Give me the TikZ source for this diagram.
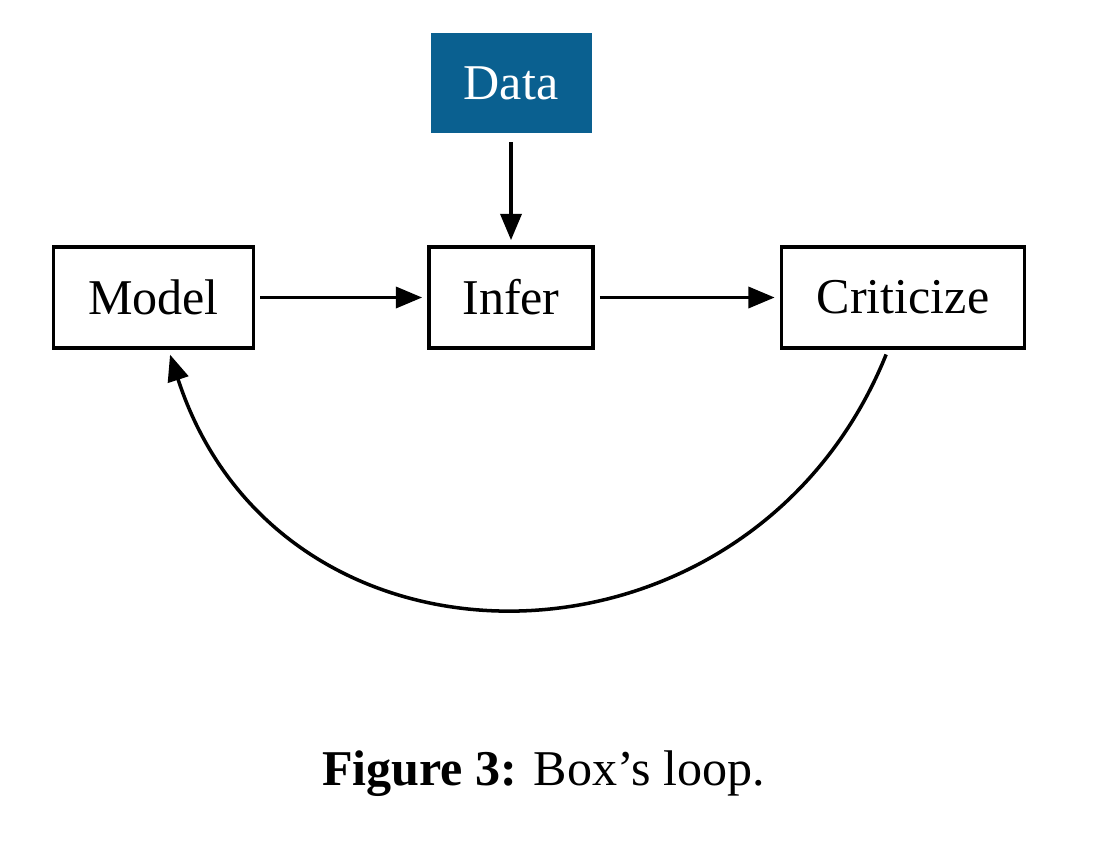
\documentclass[tikz,border=0pt]{standalone}
\usepackage{fontspec}
\setmainfont{Liberation Serif}
\usetikzlibrary{arrows.meta}
\definecolor{datablue}{RGB}{10,96,144}

\tikzset{
  stage/.style={draw, line width=2.1pt, minimum height=2.02cm, inner sep=0pt,
    font=\fontsize{28.5}{34}\selectfont},
  datastage/.style={fill=datablue, text=white, minimum height=2cm, inner sep=0pt,
    font=\fontsize{28.5}{34}\selectfont},
  flow/.style={line width=2pt, -{Triangle[length=15pt,width=12pt]},
    shorten <=0.1cm, shorten >=0.1cm}
}

\begin{document}
\begin{tikzpicture}
\useasboundingbox (0,0) rectangle (21.92,-16.86);

% The stages of the loop
\node[stage, minimum width=4cm] (model) at (3.07,-5.95) {Model};
\node[stage, minimum width=3.28cm] (infer) at (10.22,-5.95) {Infer};
\node[stage, minimum width=4.86cm] (crit) at (18.06,-5.95) {Criticize};
\node[datastage, minimum width=3.22cm] (data) at (10.22,-1.66) {Data};

% Arrows between stages
\draw[flow, shorten <=0.18cm] (data) -- (infer);
\draw[flow] (model) -- (infer);
\draw[flow] (infer) -- (crit);
\draw[flow] ([xshift=-0.3cm]crit.south) to[out=-112, in=-72, looseness=1.3] ([xshift=0.3cm]model.south);

% Caption
\node[anchor=base, font=\fontsize{28.5}{34}\selectfont] (caption) at (10.87,-15.7) {\textbf{Figure 3:} Box's loop.};
\end{tikzpicture}
\end{document}
